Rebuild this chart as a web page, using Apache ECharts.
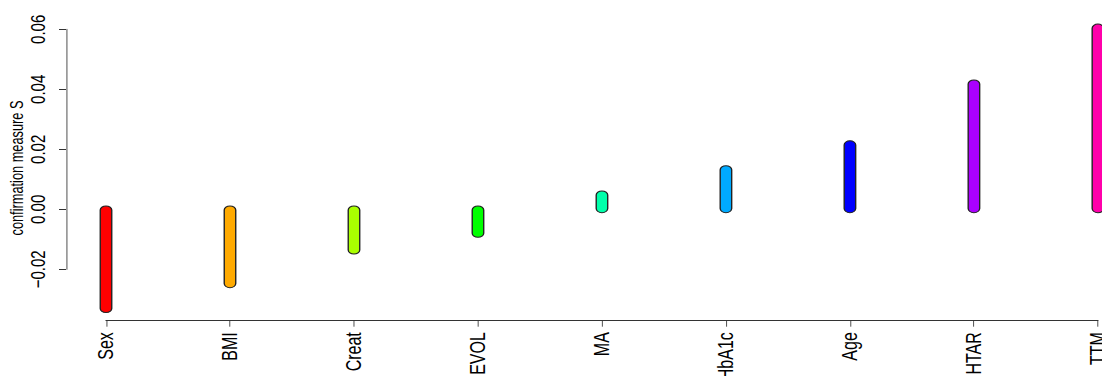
<!DOCTYPE html>
<html>
<head>
<meta charset="utf-8">
<script src="https://cdn.jsdelivr.net/npm/echarts@6/dist/echarts.min.js"></script>
<style>
html,body{margin:0;padding:0;background:#fff;overflow:hidden;}
#wrap{width:1102px;height:376px;overflow:hidden;position:relative;}
#chart{height:376px;transform-origin:0 0;position:absolute;left:0;top:0;}
</style>
</head>
<body>
<div id="wrap"><div id="chart"></div></div>
<script>
const categories = ['Sex','BMI','Creat','EVOL','MA','HbA1c','Age','HTAR','TTM'];
const values = [-0.0333, -0.025, -0.0138, -0.0082, 0.005, 0.0134, 0.0217, 0.042, 0.0606];
const colors = ['#FF0000','#FFAA00','#AAFF00','#00FF00','#00FFAA','#00AAFF','#0000FF','#AA00FF','#FF00AA'];
const yTicks = [-0.02, 0, 0.02, 0.04, 0.06];
const yTitle = 'confirmation measure S';

// horizontal stretch of the whole drawing (the reference text looks condensed)
const SX = 1.38;
const el = document.getElementById('chart');
el.style.width = (1102 / SX) + 'px';
el.style.transform = 'scaleX(' + SX + ')';

const FONT = "'Liberation Sans', Arial, Helvetica, sans-serif";
const chart = echarts.init(el, null, {renderer: 'svg'});

const BAR_W = 11.5 / SX, EXT = 3.4;

chart.setOption({
  animation: false,
  backgroundColor: '#ffffff',
  grid: {left: 106 / SX, right: 4.7 / SX, top: 29.3, bottom: 106.7, containLabel: false, outerBoundsMode: 'none'},
  xAxis: {
    type: 'category',
    data: categories,
    boundaryGap: false,
    offset: 51.4,
    axisLine: {show: true, onZero: false, lineStyle: {color: '#333', width: 1}},
    axisTick: {show: true, length: 6, alignWithLabel: true, lineStyle: {color: '#333', width: 1 / SX}},
    axisLabel: {rotate: 90, margin: 11.5, color: '#000', fontSize: 16, fontFamily: FONT, interval: 0, hideOverlap: false},
    splitLine: {show: false}
  },
  yAxis: {
    type: 'value',
    min: yTicks[0],
    max: yTicks[yTicks.length - 1],
    interval: 0.02,
    offset: 40 / SX,
    axisLine: {show: true, onZero: false, lineStyle: {color: '#333', width: 1 / SX}},
    axisTick: {show: true, length: 7 / SX, lineStyle: {color: '#333', width: 1}},
    axisLabel: {
      rotate: 90, margin: 13, color: '#000', fontSize: 15, fontFamily: FONT,
      formatter: v => (v < 0 ? '\u2212' : '') + Math.abs(v).toFixed(2)
    },
    splitLine: {show: false}
  },
  graphic: [{
    type: 'text',
    x: 17 / SX, y: 168,
    rotation: Math.PI / 2,
    style: {
      text: yTitle,
      fontSize: 12.8,
      fontFamily: FONT,
      fill: '#000',
      textAlign: 'center',
      textVerticalAlign: 'middle'
    }
  }],
  series: [{
    type: 'custom',
    clip: false,
    data: values.map((v, i) => [i, v]),
    renderItem: function (params, api) {
      const i = api.value(0);
      const p0 = api.coord([i, 0]);
      const p1 = api.coord([i, api.value(1)]);
      const top = Math.min(p0[1], p1[1]) - EXT;
      const bot = Math.max(p0[1], p1[1]) + EXT;
      return {
        type: 'rect',
        shape: {x: p0[0] - BAR_W / 2, y: top, width: BAR_W, height: bot - top, r: BAR_W / 2},
        style: {fill: colors[i], stroke: '#222', lineWidth: 1}
      };
    }
  }]
});
</script>
</body>
</html>
